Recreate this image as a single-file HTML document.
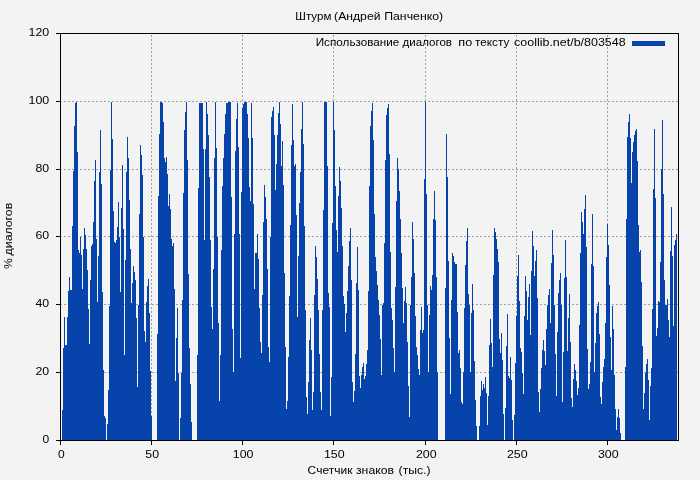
<!DOCTYPE html>
<html><head><meta charset="utf-8"><title>chart</title>
<style>
html,body{margin:0;padding:0;background:#f3f3f3;}
body{width:700px;height:480px;overflow:hidden;}
svg{display:block;will-change:transform;}
text{font-family:"Liberation Sans",sans-serif;font-size:11.5px;fill:#000;}
</style></head><body>
<svg width="700" height="480" viewBox="0 0 700 480">
<rect x="0" y="0" width="700" height="480" fill="#f3f3f3"/>
<g stroke="#a0a0a0" stroke-width="1" stroke-dasharray="2,2" shape-rendering="crispEdges">
<line x1="60" x2="678" y1="372.5" y2="372.5"/><line x1="60" x2="678" y1="304.5" y2="304.5"/><line x1="60" x2="678" y1="236.5" y2="236.5"/><line x1="60" x2="678" y1="169.5" y2="169.5"/><line x1="60" x2="678" y1="101.5" y2="101.5"/><line x1="151.5" x2="151.5" y1="35" y2="440"/><line x1="242.5" x2="242.5" y1="35" y2="440"/><line x1="333.5" x2="333.5" y1="35" y2="440"/><line x1="425.5" x2="425.5" y1="35" y2="440"/><line x1="516.5" x2="516.5" y1="35" y2="440"/><line x1="607.5" x2="607.5" y1="35" y2="440"/>
</g>
<path d="M62 410H63V440H62ZM63 348H64V440H63ZM64 317H65V440H64ZM65 345H67V440H65ZM67 317H68V440H67ZM68 291H69V440H68ZM69 277H70V440H69ZM70 290H72V440H70ZM72 226H73V440H72ZM73 171H74V440H73ZM74 126H75V440H74ZM75 103H76V440H75ZM76 102H77V440H76ZM77 152H78V440H77ZM78 250H79V440H78ZM79 253H80V440H79ZM80 237H81V440H80ZM81 255H82V440H81ZM82 289H83V440H82ZM83 249H84V440H83ZM84 228H85V440H84ZM85 235H86V440H85ZM86 249H87V440H86ZM87 270H88V440H87ZM88 309H89V440H88ZM89 344H90V440H89ZM90 280H91V440H90ZM91 246H92V440H91ZM92 244H93V440H92ZM93 222H94V440H93ZM94 181H95V440H94ZM95 160H96V440H95ZM96 239H97V440H96ZM97 302H98V440H97ZM98 256H99V440H98ZM99 172H100V440H99ZM100 130H101V440H100ZM101 184H102V440H101ZM102 292H103V440H102ZM103 370H104V440H103ZM104 416H105V440H104ZM105 418H106V440H105ZM107 424H108V440H107ZM108 390H109V440H108ZM109 306H110V440H109ZM110 170H111V440H110ZM111 102H112V440H111ZM112 139H113V440H112ZM113 211H114V440H113ZM114 242H115V440H114ZM115 243H116V440H115ZM116 240H117V440H116ZM117 227H118V440H117ZM118 202H119V440H118ZM119 237H120V440H119ZM120 292H121V440H120ZM121 208H122V440H121ZM122 165H123V440H122ZM123 229H124V440H123ZM124 355H125V440H124ZM125 260H126V440H125ZM126 172H127V440H126ZM127 137H128V440H127ZM128 158H129V440H128ZM129 200H130V440H129ZM130 249H131V440H130ZM131 303H132V440H131ZM132 283H133V440H132ZM133 266H134V440H133ZM134 272H135V440H134ZM135 280H136V440H135ZM136 318H137V440H136ZM137 387H138V440H137ZM138 305H139V440H138ZM139 214H140V440H139ZM140 145H141V440H140ZM141 155H142V440H141ZM142 175H143V440H142ZM143 237H144V440H143ZM144 331H145V440H144ZM145 342H146V440H145ZM146 302H147V440H146ZM147 286H148V440H147ZM148 279H149V440H148ZM149 313H150V440H149ZM150 371H151V440H150ZM151 416H152V440H151ZM157 334H158V440H157ZM158 196H159V440H158ZM159 134H160V440H159ZM160 102H162V440H160ZM162 103H163V440H162ZM163 122H164V440H163ZM164 158H165V440H164ZM165 162H166V440H165ZM166 157H167V440H166ZM167 174H168V440H167ZM168 206H169V440H168ZM169 194H170V440H169ZM170 209H171V440H170ZM171 239H172V440H171ZM172 246H173V440H172ZM173 243H174V440H173ZM174 289H175V440H174ZM175 381H176V440H175ZM176 338H177V440H176ZM177 308H178V440H177ZM178 373H179V440H178ZM180 418H181V440H180ZM181 373H182V440H181ZM182 300H183V440H182ZM183 193H184V440H183ZM184 130H185V440H184ZM185 112H186V440H185ZM186 102H187V440H186ZM187 160H188V440H187ZM188 274H189V440H188ZM189 348H190V440H189ZM190 384H191V440H190ZM191 422H192V440H191ZM197 355H198V440H197ZM198 188H199V440H198ZM199 103H203V440H199ZM203 149H204V440H203ZM204 240H205V440H204ZM205 149H206V440H205ZM206 102H207V440H206ZM207 114H208V440H207ZM208 135H209V440H208ZM209 177H210V440H209ZM210 240H211V440H210ZM211 307H212V440H211ZM212 329H213V440H212ZM213 269H214V440H213ZM214 158H215V440H214ZM215 102H216V440H215ZM216 148H217V440H216ZM217 237H218V440H217ZM218 323H219V440H218ZM219 401H220V440H219ZM220 355H221V440H220ZM221 250H222V440H221ZM222 186H223V440H222ZM223 158H224V440H223ZM224 134H225V440H224ZM225 114H226V440H225ZM226 103H228V440H226ZM228 102H231V440H228ZM231 197H232V440H231ZM232 329H233V440H232ZM233 372H234V440H233ZM234 234H235V440H234ZM235 151H236V440H235ZM236 119H237V440H236ZM237 103H238V440H237ZM238 147H239V440H238ZM239 234H240V440H239ZM240 358H241V440H240ZM241 192H242V440H241ZM242 108H243V440H242ZM243 104H244V440H243ZM244 102H247V440H244ZM247 114H248V440H247ZM248 138H249V440H248ZM249 187H250V440H249ZM250 201H251V440H250ZM251 103H252V440H251ZM252 138H253V440H252ZM253 204H254V440H253ZM254 289H255V440H254ZM255 253H257V440H255ZM257 234H258V440H257ZM258 259H259V440H258ZM259 308H260V440H259ZM260 342H261V440H260ZM261 353H262V440H261ZM262 295H263V440H262ZM263 222H264V440H263ZM264 185H265V440H264ZM265 197H266V440H265ZM266 219H267V440H266ZM267 269H268V440H267ZM268 347H269V440H268ZM269 362H270V440H269ZM270 237H271V440H270ZM271 117H272V440H271ZM272 111H273V440H272ZM273 107H274V440H273ZM274 135H275V440H274ZM275 190H276V440H275ZM276 164H277V440H276ZM277 135H278V440H277ZM278 113H279V440H278ZM279 102H280V440H279ZM280 124H281V440H280ZM281 166H282V440H281ZM282 141H283V440H282ZM283 185H284V440H283ZM284 273H285V440H284ZM285 347H286V440H285ZM286 409H287V440H286ZM287 401H288V440H287ZM288 357H289V440H288ZM289 296H290V440H289ZM290 225H291V440H290ZM291 145H292V440H291ZM292 104H293V440H292ZM293 140H294V440H293ZM294 166H295V440H294ZM295 164H296V440H295ZM296 215H297V440H296ZM297 317H298V440H297ZM298 256H299V440H298ZM299 203H300V440H299ZM300 172H301V440H300ZM301 129H302V440H301ZM302 102H303V440H302ZM303 144H304V440H303ZM304 226H305V440H304ZM305 310H306V440H305ZM306 397H307V440H306ZM307 414H308V440H307ZM308 382H309V440H308ZM309 340H310V440H309ZM310 318H311V440H310ZM311 350H312V440H311ZM312 410H313V440H312ZM313 392H314V440H313ZM314 295H315V440H314ZM315 246H316V440H315ZM316 257H317V440H316ZM317 279H318V440H317ZM318 310H319V440H318ZM319 354H320V440H319ZM320 392H321V440H320ZM321 410H322V440H321ZM322 310H323V440H322ZM323 210H324V440H323ZM324 102H327V440H324ZM327 166H328V440H327ZM328 293H329V440H328ZM329 307H330V440H329ZM330 416H331V440H330ZM331 377H332V440H331ZM332 223H333V440H332ZM333 102H334V440H333ZM334 130H335V440H334ZM335 186H336V440H335ZM336 230H337V440H336ZM337 252H338V440H337ZM338 196H339V440H338ZM339 167H340V440H339ZM340 181H341V440H340ZM341 208H342V440H341ZM342 246H343V440H342ZM343 296H344V440H343ZM344 304H345V440H344ZM345 332H346V440H345ZM346 313H347V440H346ZM347 291H348V440H347ZM348 266H349V440H348ZM349 241H350V440H349ZM350 228H351V440H350ZM351 280H352V440H351ZM352 382H353V440H352ZM353 402H354V440H353ZM354 391H355V440H354ZM355 354H356V440H355ZM356 283H357V440H356ZM357 247H358V440H357ZM358 290H359V440H358ZM359 376H360V440H359ZM360 388H361V440H360ZM361 375H362V440H361ZM362 367H363V440H362ZM363 363H364V440H363ZM364 379H365V440H364ZM365 376H366V440H365ZM366 364H367V440H366ZM367 350H368V440H367ZM368 291H369V440H368ZM369 186H370V440H369ZM370 126H371V440H370ZM371 111H372V440H371ZM372 103H373V440H372ZM373 140H374V440H373ZM374 214H375V440H374ZM375 257H376V440H375ZM376 271H377V440H376ZM377 285H378V440H377ZM378 300H379V440H378ZM379 315H380V440H379ZM380 339H381V440H380ZM381 375H382V440H381ZM382 305H383V440H382ZM383 303H384V440H383ZM384 243H385V440H384ZM385 160H386V440H385ZM386 115H387V440H386ZM387 108H388V440H387ZM388 104H389V440H388ZM389 154H390V440H389ZM390 252H391V440H390ZM391 308H392V440H391ZM392 320H393V440H392ZM393 348H394V440H393ZM394 372H395V440H394ZM395 287H396V440H395ZM396 201H397V440H396ZM397 158H398V440H397ZM398 169H399V440H398ZM399 191H400V440H399ZM400 219H401V440H400ZM401 253H402V440H401ZM402 288H403V440H402ZM403 323H404V440H403ZM404 301H405V440H404ZM405 287H406V440H405ZM406 303H407V440H406ZM407 342H408V440H407ZM408 386H409V440H408ZM409 417H410V440H409ZM410 305H411V440H410ZM411 277H412V440H411ZM412 222H413V440H412ZM413 239H414V440H413ZM414 273H415V440H414ZM415 316H416V440H415ZM416 347H417V440H416ZM417 355H418V440H417ZM418 369H419V440H418ZM419 375H420V440H419ZM420 330H421V440H420ZM421 307H422V440H421ZM422 333H423V440H422ZM423 330H424V440H423ZM424 179H425V440H424ZM425 102H426V440H425ZM426 194H427V440H426ZM427 305H428V440H427ZM428 372H429V440H428ZM429 315H430V440H429ZM430 286H431V440H430ZM431 290H432V440H431ZM432 275H433V440H432ZM433 219H434V440H433ZM434 191H435V440H434ZM435 220H436V440H435ZM436 277H437V440H436ZM437 372H438V440H437ZM445 288H446V440H445ZM446 134H447V440H446ZM447 177H448V440H447ZM448 261H449V440H448ZM449 338H450V440H449ZM450 394H451V440H450ZM451 300H452V440H451ZM452 253H453V440H452ZM453 256H454V440H453ZM454 262H455V440H454ZM455 264H457V440H455ZM457 312H458V440H457ZM458 353H459V440H458ZM459 350H460V440H459ZM460 368H461V440H460ZM461 402H462V440H461ZM462 404H463V440H462ZM463 372H464V440H463ZM464 308H465V440H464ZM465 265H466V440H465ZM466 241H467V440H466ZM467 228H468V440H467ZM468 294H469V440H468ZM469 305H470V440H469ZM470 372H471V440H470ZM471 313H472V440H471ZM472 284H473V440H472ZM473 310H474V440H473ZM474 361H475V440H474ZM475 400H476V440H475ZM476 426H477V440H476ZM479 426H480V440H479ZM480 396H481V440H480ZM481 381H482V440H481ZM482 390H483V440H482ZM483 384H484V440H483ZM484 388H485V440H484ZM485 377H486V440H485ZM486 393H487V440H486ZM487 425H488V440H487ZM488 396H489V440H488ZM489 345H490V440H489ZM490 319H491V440H490ZM491 343H492V440H491ZM492 367H493V440H492ZM493 275H494V440H493ZM494 228H495V440H494ZM495 232H496V440H495ZM496 239H497V440H496ZM497 249H498V440H497ZM498 262H499V440H498ZM499 339H500V440H499ZM500 353H501V440H500ZM501 333H502V440H501ZM502 360H503V440H502ZM503 414H504V440H503ZM505 408H506V440H505ZM506 346H507V440H506ZM507 314H508V440H507ZM508 376H509V440H508ZM509 378H510V440H509ZM510 357H511V440H510ZM511 380H512V440H511ZM512 420H513V440H512ZM514 415H515V440H514ZM515 363H516V440H515ZM516 316H517V440H516ZM517 276H518V440H517ZM518 255H519V440H518ZM519 301H520V440H519ZM520 348H521V440H520ZM521 352H522V440H521ZM522 373H523V440H522ZM523 394H524V440H523ZM524 316H525V440H524ZM525 276H526V440H525ZM526 291H527V440H526ZM527 320H528V440H527ZM528 297H529V440H528ZM529 284H530V440H529ZM530 335H531V440H530ZM531 271H532V440H531ZM532 231H533V440H532ZM533 246H534V440H533ZM534 276H535V440H534ZM535 261H536V440H535ZM536 250H537V440H536ZM537 298H538V440H537ZM538 392H539V440H538ZM539 412H540V440H539ZM540 389H541V440H540ZM541 368H542V440H541ZM542 350H543V440H542ZM543 340H544V440H543ZM544 351H545V440H544ZM545 365H546V440H545ZM546 329H547V440H546ZM547 305H548V440H547ZM548 295H549V440H548ZM549 289H550V440H549ZM550 323H551V440H550ZM551 263H552V440H551ZM552 230H553V440H552ZM553 255H554V440H553ZM554 305H555V440H554ZM555 354H556V440H555ZM556 396H557V440H556ZM557 332H558V440H557ZM558 293H559V440H558ZM559 280H560V440H559ZM560 273H561V440H560ZM561 305H562V440H561ZM562 402H563V440H562ZM563 352H564V440H563ZM564 278H565V440H564ZM565 240H566V440H565ZM566 277H567V440H566ZM567 351H568V440H567ZM568 318H569V440H568ZM569 294H570V440H569ZM570 342H571V440H570ZM571 398H572V440H571ZM572 407H573V440H572ZM573 379H574V440H573ZM574 364H575V440H574ZM575 370H576V440H575ZM576 381H577V440H576ZM577 395H578V440H577ZM578 388H579V440H578ZM579 325H580V440H579ZM580 253H581V440H580ZM581 212H582V440H581ZM582 222H583V440H582ZM583 234H584V440H583ZM584 209H585V440H584ZM585 195H586V440H585ZM586 247H587V440H586ZM587 349H588V440H587ZM588 389H589V440H588ZM589 384H590V440H589ZM590 362H591V440H590ZM591 264H592V440H591ZM592 214H593V440H592ZM593 266H594V440H593ZM594 372H595V440H594ZM595 343H596V440H595ZM596 313H597V440H596ZM597 306H598V440H597ZM598 302H599V440H598ZM599 334H600V440H599ZM600 397H601V440H600ZM601 404H602V440H601ZM602 382H603V440H602ZM603 367H604V440H603ZM604 359H605V440H604ZM605 323H606V440H605ZM606 257H607V440H606ZM607 224H608V440H607ZM608 245H609V440H608ZM609 285H610V440H609ZM610 337H611V440H610ZM611 370H612V440H611ZM612 306H613V440H612ZM613 329H614V440H613ZM614 375H615V440H614ZM615 409H616V440H615ZM616 430H617V440H616ZM617 417H618V440H617ZM618 409H619V440H618ZM619 418H620V440H619ZM620 433H621V440H620ZM625 367H626V440H625ZM626 219H627V440H626ZM627 137H628V440H627ZM628 122H629V440H628ZM629 114H630V440H629ZM630 138H631V440H630ZM631 183H632V440H631ZM632 152H633V440H632ZM633 142H634V440H633ZM634 135H635V440H634ZM635 131H636V440H635ZM636 129H637V440H636ZM637 161H638V440H637ZM638 225H639V440H638ZM639 252H640V440H639ZM640 250H641V440H640ZM641 282H642V440H641ZM642 346H643V440H642ZM643 409H644V440H643ZM644 393H645V440H644ZM645 373H646V440H645ZM646 364H647V440H646ZM647 359H648V440H647ZM648 380H649V440H648ZM649 420H650V440H649ZM650 386H651V440H650ZM651 368H652V440H651ZM652 309H653V440H652ZM653 189H654V440H653ZM654 129H655V440H654ZM655 198H656V440H655ZM656 336H657V440H656ZM657 328H658V440H657ZM658 301H659V440H658ZM659 302H660V440H659ZM660 262H661V440H660ZM661 169H662V440H661ZM662 120H663V440H662ZM663 194H664V440H663ZM664 280H665V440H664ZM665 305H667V440H665ZM667 299H668V440H667ZM668 320H669V440H668ZM669 337H670V440H669ZM670 251H671V440H670ZM671 207H672V440H671ZM672 256H673V440H672ZM673 326H674V440H673ZM674 245H675V440H674ZM675 240H676V440H675ZM676 234H677V440H676Z" fill="#0643ab" shape-rendering="crispEdges"/>
<g stroke="#000" stroke-width="1" shape-rendering="crispEdges">
<rect x="60.5" y="33.5" width="618" height="407" fill="none"/>
<line x1="56" x2="60" y1="440.5" y2="440.5"/><line x1="56" x2="60" y1="372.5" y2="372.5"/><line x1="56" x2="60" y1="304.5" y2="304.5"/><line x1="56" x2="60" y1="236.5" y2="236.5"/><line x1="56" x2="60" y1="169.5" y2="169.5"/><line x1="56" x2="60" y1="101.5" y2="101.5"/><line x1="56" x2="60" y1="33.5" y2="33.5"/><line x1="151.5" x2="151.5" y1="441" y2="445"/><line x1="242.5" x2="242.5" y1="441" y2="445"/><line x1="333.5" x2="333.5" y1="441" y2="445"/><line x1="425.5" x2="425.5" y1="441" y2="445"/><line x1="516.5" x2="516.5" y1="441" y2="445"/><line x1="607.5" x2="607.5" y1="441" y2="445"/><line x1="60.5" x2="60.5" y1="441" y2="445"/>
</g>
<g>
<text x="42.5" y="442.8" textLength="6.7" lengthAdjust="spacingAndGlyphs">0</text><text x="35.5" y="374.8" textLength="13.7" lengthAdjust="spacingAndGlyphs">20</text><text x="35.5" y="306.8" textLength="13.7" lengthAdjust="spacingAndGlyphs">40</text><text x="35.5" y="238.8" textLength="13.7" lengthAdjust="spacingAndGlyphs">60</text><text x="35.5" y="171.8" textLength="13.7" lengthAdjust="spacingAndGlyphs">80</text><text x="28.5" y="103.8" textLength="20.7" lengthAdjust="spacingAndGlyphs">100</text><text x="28.5" y="35.8" textLength="20.7" lengthAdjust="spacingAndGlyphs">120</text>
<text x="145.3" y="457.8" textLength="13.7" lengthAdjust="spacingAndGlyphs">50</text><text x="232.8" y="457.8" textLength="20.7" lengthAdjust="spacingAndGlyphs">100</text><text x="323.9" y="457.8" textLength="20.7" lengthAdjust="spacingAndGlyphs">150</text><text x="415.9" y="457.8" textLength="20.7" lengthAdjust="spacingAndGlyphs">200</text><text x="506.9" y="457.8" textLength="20.7" lengthAdjust="spacingAndGlyphs">250</text><text x="597.9" y="457.8" textLength="20.7" lengthAdjust="spacingAndGlyphs">300</text><text x="57.9" y="457.8" textLength="6.7" lengthAdjust="spacingAndGlyphs">0</text>
<text x="295.3" y="20" textLength="36.1" lengthAdjust="spacingAndGlyphs">Штурм</text><text x="334.1" y="20" textLength="46.4" lengthAdjust="spacingAndGlyphs">(Андрей</text><text x="384.2" y="20" textLength="59.0" lengthAdjust="spacingAndGlyphs">Панченко)</text>
<text x="307.6" y="474" textLength="44.8" lengthAdjust="spacingAndGlyphs">Счетчик</text><text x="356.0" y="474" textLength="38.0" lengthAdjust="spacingAndGlyphs">знаков</text><text x="398.6" y="474" textLength="32.0" lengthAdjust="spacingAndGlyphs">(тыс.)</text>
<text x="315.7" y="46" textLength="83.7" lengthAdjust="spacingAndGlyphs">Использование</text><text x="402.6" y="46" textLength="49.4" lengthAdjust="spacingAndGlyphs">диалогов</text><text x="458.3" y="46" textLength="13.9" lengthAdjust="spacingAndGlyphs">по</text><text x="475.0" y="46" textLength="34.3" lengthAdjust="spacingAndGlyphs">тексту</text><text x="514.1" y="46" textLength="111.5" lengthAdjust="spacingAndGlyphs">coollib.net/b/803548</text>
<g transform="translate(11.8,268.4) rotate(-90)"><text x="-0.7" y="0" textLength="10.8" lengthAdjust="spacingAndGlyphs">%</text><text x="13.0" y="0" textLength="52.6" lengthAdjust="spacingAndGlyphs">диалогов</text></g>
</g>
<rect x="632" y="41" width="33" height="5" fill="#0643ab" shape-rendering="crispEdges"/>
</svg>
</body></html>
